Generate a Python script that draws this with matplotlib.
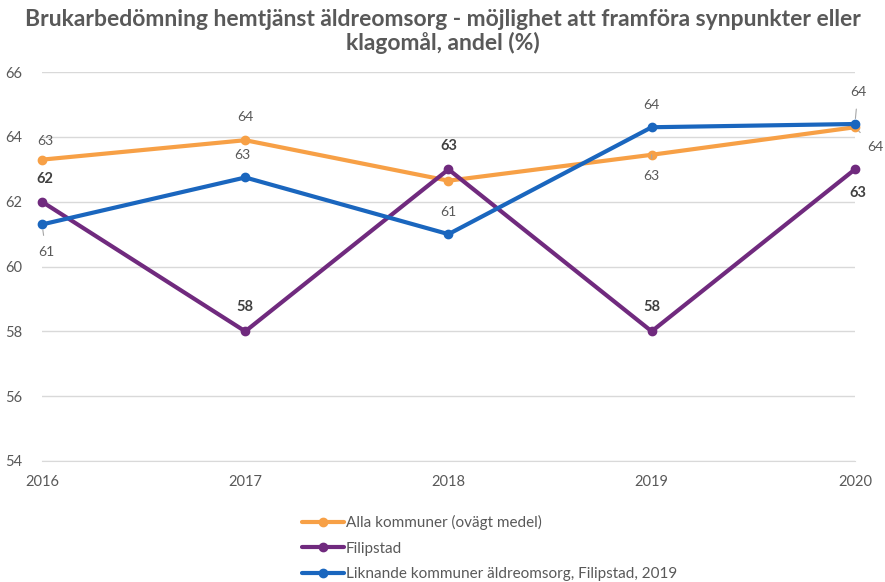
import matplotlib.pyplot as plt

years = [2016, 2017, 2018, 2019, 2020]
alla = [63.3, 63.9, 62.65, 63.45, 64.3]
filipstad = [62, 58, 63, 58, 63]
liknande = [61.3, 62.75, 61.0, 64.3, 64.4]

series_names = ["Alla kommuner (ovägt medel)", "Filipstad",
                "Liknande kommuner äldreomsorg, Filipstad, 2019"]
colors = ["#F7A046", "#702A7E", "#1A66BE"]

# label offsets in pixels (None = no label)
alla_off = [(3, 19), (0, 23), None, (0, -21), (20, -20)]
filip_off = [(3, 23), (0, 24), (0, 23), (0, 24), (3, -24)]
likn_off = [(4, -28), (-3, 22), (0, 22), (0, 22), (3, 32)]
leader = {("alla", 3), ("alla", 4), ("likn", 0), ("likn", 4)}

plt.rcParams['font.family'] = ['Lato', 'DejaVu Sans']
grey = "#595959"

fig = plt.figure(figsize=(8.85, 5.82), dpi=100)
ax = fig.add_axes([0.0475, 0.208, 0.9185, 0.668])

for vals, c in zip([alla, filipstad, liknande], colors):
    ax.plot(years, vals, color=c, lw=3, marker="o", ms=6, solid_capstyle="round")

def label(vals, offs, key, bold):
    for i, (x, v) in enumerate(zip(years, vals)):
        if offs[i] is None:
            continue
        dx, dy = offs[i]
        arrow = None
        if (key, i) in leader:
            arrow = dict(arrowstyle="-", color="#a6a6a6", lw=0.8, shrinkA=6, shrinkB=4)
        ax.annotate(f"{round(v)}", (x, v), xytext=(dx, dy), textcoords="offset pixels",
                    ha="center", va="center", fontsize=10.5 if bold else 10,
                    fontweight="bold" if bold else "normal",
                    color="#404040" if bold else grey, arrowprops=arrow)

label(alla, alla_off, "alla", False)
label(filipstad, filip_off, "filip", True)
label(liknande, likn_off, "likn", False)

ax.set_ylim(54, 66)
ax.set_yticks(range(54, 67, 2))
ax.set_xlim(2016, 2020)
ax.set_xticks(years)
ax.grid(axis="y", color="#d9d9d9", lw=1)
ax.set_axisbelow(True)
for s in ["top", "right", "left"]:
    ax.spines[s].set_visible(False)
ax.spines["bottom"].set_color("#d9d9d9")
ax.tick_params(length=0, labelsize=10.5, colors=grey)
ax.tick_params(axis="y", pad=14)
ax.tick_params(axis="x", pad=10)
for ln in ax.lines:
    ln.set_clip_on(False)

fig.suptitle("Brukarbedömning hemtjänst äldreomsorg - möjlighet att framföra synpunkter eller\nklagomål, andel (%)",
             x=0.5, y=0.985, fontsize=16.5, fontweight="bold", color=grey, linespacing=1.1)

fig.legend(ax.lines, series_names, loc="upper left", bbox_to_anchor=(0.333, 0.128),
           frameon=False, fontsize=11, labelcolor=grey, handlelength=2.7,
           handletextpad=0.15, labelspacing=0.75, borderpad=0)

fig.savefig("out.png", dpi=100)
